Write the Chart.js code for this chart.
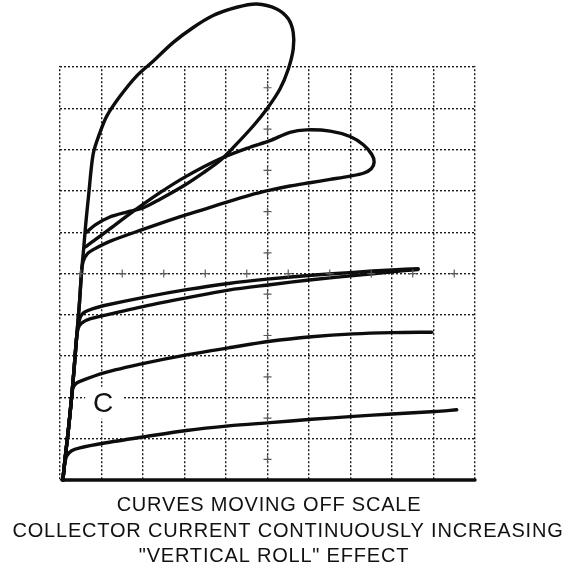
<!DOCTYPE html>
<html>
<head>
<meta charset="utf-8">
<script src="https://cdn.jsdelivr.net/npm/chart.js@4/dist/chart.umd.min.js"></script>
<style>
  html, body { margin: 0; padding: 0; background: #ffffff; }
  #wrap { width: 570px; height: 566px; }
</style>
</head>
<body>
<div id="wrap"><canvas id="c" width="570" height="566"></canvas></div>
<script>
// ---- graticule ----
const xTicks = [0,1,2,3,4,5,6,7,8,9,10];
const yTicks = [0,1,2,3,4,5,6,7,8,9,10];
const centerMarksAlongX = [0.5,1.5,2.5,3.5,4.5,5.5,6.5,7.5,8.5,9.5];
const centerMarksAlongY = [0.5,1.5,2.5,3.5,4.5,5.5,6.5,7.5,8.5,9.5];

// ---- traces (x, y in graticule divisions) ----
const baseline = [[0.05,0],[10,0]];
const curve1 = [[0.07,0],[0.10,0.30],[0.16,0.58],[0.28,0.71],[0.48,0.78],[1.04,0.89],[2.05,1.05],[3.05,1.20],[4.06,1.31],[5.06,1.39],[6.06,1.47],[7.07,1.54],[8.0,1.60],[9.04,1.66],[9.56,1.70]];
const curve2 = [[0.07,0],[0.12,0.5],[0.20,1.2],[0.27,1.9],[0.31,2.22],[0.38,2.33],[0.48,2.39],[1.04,2.59],[2.05,2.83],[3.05,3.03],[4.06,3.20],[5.06,3.36],[6.06,3.47],[7.07,3.54],[8.0,3.57],[8.96,3.58]];
const curve3 = [[0.07,0],[0.12,0.5],[0.20,1.2],[0.27,1.9],[0.34,2.7],[0.40,3.45],[0.44,3.68],[0.52,3.80],[0.72,3.90],[1.04,3.98],[2.05,4.21],[3.05,4.41],[4.06,4.60],[5.06,4.73],[6.06,4.85],[7.07,4.95],[8.0,5.04],[8.63,5.10]];
const curve4 = [[0.07,0],[0.12,0.5],[0.20,1.2],[0.27,1.9],[0.34,2.7],[0.40,3.45],[0.46,3.85],[0.52,4.0],[0.62,4.08],[0.80,4.15],[1.04,4.22],[2.05,4.43],[3.05,4.61],[4.06,4.76],[5.06,4.87],[6.06,4.96],[7.07,5.03],[8.0,5.09],[8.63,5.12]];
const smallLoop = [[0.07,0],[0.12,0.5],[0.20,1.2],[0.27,1.9],[0.34,2.7],[0.40,3.45],[0.47,4.3],[0.52,5.05],[0.56,5.30],[0.66,5.48],[0.80,5.58],[1.2,5.78],[2.0,6.07],[2.81,6.35],[3.86,6.68],[4.58,6.90],[5.06,7.02],[5.54,7.12],[6.02,7.20],[6.51,7.28],[6.99,7.36],[7.31,7.43],[7.50,7.54],[7.57,7.70],[7.51,7.89],[7.31,8.12],[6.99,8.32],[6.51,8.45],[5.94,8.48],[5.54,8.42],[5.06,8.22],[4.58,8.06],[3.86,7.78],[3.05,7.36],[2.41,6.96],[1.77,6.51],[1.2,6.08],[0.85,5.82],[0.60,5.64]];
const bigLoop = [[0.07,0],[0.12,0.5],[0.20,1.2],[0.27,1.9],[0.34,2.7],[0.40,3.45],[0.47,4.3],[0.52,5.05],[0.57,5.6],[0.62,6.2],[0.69,6.9],[0.80,7.9],[0.96,8.41],[1.13,8.82],[1.45,9.30],[1.85,9.79],[2.25,10.15],[2.73,10.6],[3.21,10.96],[3.69,11.25],[4.26,11.45],[4.74,11.53],[5.22,11.41],[5.50,11.17],[5.62,10.84],[5.62,10.44],[5.50,9.95],[5.30,9.47],[4.98,8.98],[4.66,8.58],[4.20,8.08],[3.86,7.74],[3.45,7.44],[2.97,7.12],[2.41,6.80],[2.0,6.59],[1.61,6.49],[1.2,6.37],[0.85,6.18],[0.64,6.0]];

// ---- labels ----
const markLabel = { text: "C", at: [1.04, 1.87] };
const captionLines = [
  "CURVES MOVING OFF SCALE",
  "COLLECTOR CURRENT CONTINUOUSLY INCREASING",
  "\"VERTICAL ROLL\" EFFECT"
];

const toXY = arr => arr.map(p => ({ x: p[0], y: p[1] }));
const traceStyle = {
  borderColor: '#0d0d0d', borderWidth: 3.4, pointRadius: 0, tension: 0.3,
  fill: false, borderCapStyle: 'round', borderJoinStyle: 'round', clip: false
};

const marks = [];
centerMarksAlongY.forEach(v => marks.push({ x: 5, y: v }));
centerMarksAlongX.forEach(v => marks.push({ x: v, y: 5 }));

const maskPlugin = {
  id: 'mask',
  beforeDatasetsDraw(chart) {
    const ctx = chart.ctx, a = chart.chartArea, ys = chart.scales.y, xs = chart.scales.x;
    ctx.save();
    ctx.fillStyle = '#ffffff';
    const top10 = ys.getPixelForValue(10);
    ctx.fillRect(0, 0, chart.width, top10 - 1.2);
    // label "C" with white backing
    const cx = xs.getPixelForValue(markLabel.at[0]);
    const cy = ys.getPixelForValue(markLabel.at[1]);
    ctx.fillRect(cx - 18, cy - 16, 37, 32);
    ctx.fillStyle = '#111111';
    ctx.font = '28px "Liberation Sans", Arial, sans-serif';
    ctx.textAlign = 'center';
    ctx.textBaseline = 'middle';
    ctx.fillText(markLabel.text, cx, cy + 1);
    ctx.restore();
  }
};

const captionPlugin = {
  id: 'caption',
  afterDraw(chart) {
    const ctx = chart.ctx;
    ctx.save();
    ctx.fillStyle = '#111111';
    ctx.font = '20px "Liberation Sans", Arial, sans-serif';
    ctx.letterSpacing = '0.8px';
    ctx.textAlign = 'center';
    ctx.textBaseline = 'alphabetic';
    const centers = [269, 288, 274];
    const baselines = [511, 537, 562];
    captionLines.forEach((t, i) => ctx.fillText(t, centers[i], baselines[i]));
    ctx.restore();
  }
};

new Chart(document.getElementById('c'), {
  type: 'line',
  data: {
    datasets: [
      { data: marks, showLine: false, pointStyle: 'cross', pointRadius: 4, pointBorderWidth: 1.2, pointBorderColor: '#5a5a5a', borderColor: '#5a5a5a' },
      Object.assign({ data: toXY(baseline) }, traceStyle, { tension: 0 }),
      Object.assign({ data: toXY(curve1) }, traceStyle),
      Object.assign({ data: toXY(curve2) }, traceStyle),
      Object.assign({ data: toXY(curve3) }, traceStyle),
      Object.assign({ data: toXY(curve4) }, traceStyle),
      Object.assign({ data: toXY(smallLoop) }, traceStyle),
      Object.assign({ data: toXY(bigLoop) }, traceStyle)
    ]
  },
  options: {
    responsive: false,
    animation: false,
    events: [],
    layout: { padding: { left: 60, right: 95, top: 0, bottom: 86 } },
    plugins: { legend: { display: false }, tooltip: { enabled: false }, title: { display: false } },
    scales: {
      x: {
        type: 'linear', min: 0, max: 10,
        afterBuildTicks: s => { s.ticks = xTicks.map(v => ({ value: v })); },
        afterFit: s => { s.height = 0; },
        ticks: { display: false },
        grid: { color: '#1a1a1a', lineWidth: 1.4, drawTicks: false },
        border: { display: false, dash: [2, 2] }
      },
      y: {
        type: 'linear', min: 0, max: 11.5,
        afterBuildTicks: s => { s.ticks = yTicks.map(v => ({ value: v })); },
        afterFit: s => { s.width = 0; },
        ticks: { display: false },
        grid: { color: '#1a1a1a', lineWidth: 1.4, drawTicks: false },
        border: { display: false, dash: [2, 2] }
      }
    }
  },
  plugins: [maskPlugin, captionPlugin]
});
</script>
</body>
</html>
